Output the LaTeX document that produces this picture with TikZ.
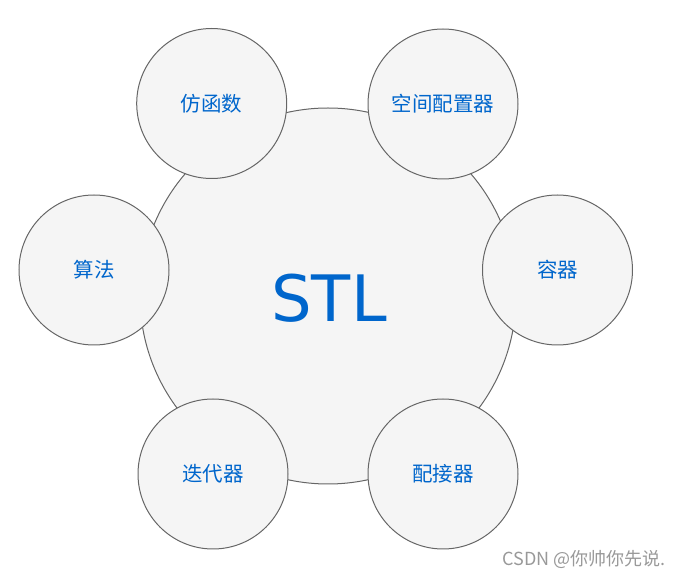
\documentclass[tikz,border=0pt]{standalone}
\usepackage{fontspec}
\setmainfont{DejaVu Sans}
\newfontfamily\cjk{Noto Sans CJK SC}
\begin{document}
\begin{tikzpicture}[x=1pt,y=-1pt,
  bigc/.style={circle,draw=black!60,fill=black!4,line width=1pt,minimum size=376pt,inner sep=0pt},
  smallc/.style={circle,draw=black!60,fill=black!4,line width=1pt,minimum size=150pt,inner sep=0pt,
    font=\cjk\fontsize{20.5}{20.5}\selectfont,text=stlblue},
]
\definecolor{stlblue}{HTML}{0066CC}
\useasboundingbox (0,0) rectangle (681,577);
\node[bigc] (stl) at (328,296) {};
\node[font=\fontsize{64}{64}\selectfont,text=stlblue] (stltext) at (329,298) {STL};
\node[smallc] (fhs) at (211.7,103.5) {仿函数};
\node[smallc] (kjpzq) at (443,104) {空间配置器};
\node[smallc] (sf) at (94,270) {算法};
\node[smallc] (rq) at (557.5,270) {容器};
\node[smallc] (ddq) at (213,474) {迭代器};
\node[smallc] (pjq) at (443,474) {配接器};
\node[font=\cjk\fontsize{18}{18}\selectfont,text=black!40,anchor=east] (wm) at (669,559) {CSDN @你帅你先说.};
\end{tikzpicture}
\end{document}
